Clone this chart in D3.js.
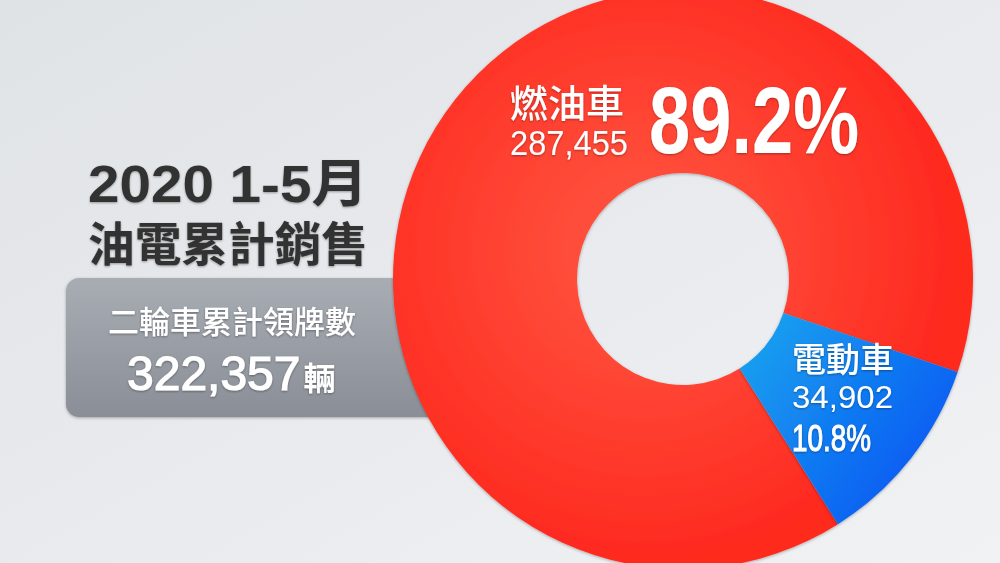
<!DOCTYPE html>
<html>
<head>
<meta charset="utf-8">
<script src="https://cdn.jsdelivr.net/npm/d3@7"></script>
<style>
html,body{margin:0;padding:0;overflow:hidden;}
svg{display:block;}
</style>
</head>
<body>
<svg id="chart" width="1000" height="563"></svg>
<script>
// ---- data ----
const categories = ["燃油車", "電動車"];
const values = [287455, 34902];
const valueLabels = ["287,455", "34,902"];
const percentLabels = ["89.2%", "10.8%"];
const titleLines = ["2020 1-5月", "油電累計銷售"];
const boxTitle = "二輪車累計領牌數";
const totalLabel = "322,357";
const totalUnit = "輛";

const W = 1000, H = 563;
const svg = d3.select("#chart");
const defs = svg.append("defs");

// background
const bg = defs.append("linearGradient").attr("id","bg").attr("x1","0").attr("y1","0").attr("x2","1").attr("y2","1");
bg.append("stop").attr("offset","0").attr("stop-color","#e0e3e6");
bg.append("stop").attr("offset","0.5").attr("stop-color","#e8eaed");
bg.append("stop").attr("offset","1").attr("stop-color","#f1f2f4");
svg.append("rect").attr("width",W).attr("height",H).attr("fill","url(#bg)");

// shadows
const sh = defs.append("filter").attr("id","sh").attr("x","-20%").attr("y","-20%").attr("width","140%").attr("height","140%");
sh.append("feDropShadow").attr("dx",0).attr("dy",1).attr("stdDeviation",1.5).attr("flood-color","#000").attr("flood-opacity",0.3);
const tsh = defs.append("filter").attr("id","tsh").attr("x","-10%").attr("y","-10%").attr("width","120%").attr("height","130%");
tsh.append("feDropShadow").attr("dx",0).attr("dy",1).attr("stdDeviation",0.8).attr("flood-color","#000").attr("flood-opacity",0.35);

// gray box
const boxG = defs.append("linearGradient").attr("id","boxg").attr("x1","0").attr("y1","0").attr("x2","0").attr("y2","1");
boxG.append("stop").attr("offset","0").attr("stop-color","#a8acb3");
boxG.append("stop").attr("offset","1").attr("stop-color","#8a8e96");
svg.append("rect").attr("x",66).attr("y",278).attr("width",440).attr("height",139).attr("rx",13)
  .attr("fill","url(#boxg)").attr("filter","url(#sh)");

const sans = "'Liberation Sans', Arial, 'Noto Sans CJK TC', sans-serif";
const cjk = "'Noto Sans CJK TC', 'Liberation Sans', sans-serif";

svg.append("text").attr("x",232).attr("y",333).attr("text-anchor","middle")
  .attr("font-family",cjk).attr("font-size",31).attr("font-weight",500).attr("fill","#fff")
  .attr("filter","url(#tsh)").text(boxTitle);
const tot = svg.append("text").attr("x",127).attr("y",390).attr("fill","#fff").attr("filter","url(#tsh)");
tot.append("tspan").attr("font-family",sans).attr("font-size",48).attr("font-weight",400)
  .attr("stroke","#fff").attr("stroke-width",1.2).text(totalLabel);
tot.append("tspan").attr("font-family",cjk).attr("font-size",32).attr("font-weight",700).attr("dx",3).text(totalUnit);

// title
const title = svg.append("text").attr("font-weight",700).attr("fill","#333").attr("filter","url(#tsh)");
title.append("tspan").attr("x",88).attr("y",202).attr("font-family",sans).attr("font-size",52)
  .attr("textLength",280).attr("lengthAdjust","spacingAndGlyphs").text(titleLines[0]);
title.append("tspan").attr("x",88).attr("y",261).attr("font-family",cjk).attr("font-size",47)
  .attr("textLength",280).attr("lengthAdjust","spacingAndGlyphs").text(titleLines[1]);

// donut
const cx = 683, cy = 279, R = 290, r = 106;
const redG = defs.append("radialGradient").attr("id","redg").attr("gradientUnits","userSpaceOnUse")
  .attr("cx",-40).attr("cy",-30).attr("r",R+20);
redG.append("stop").attr("offset","0.25").attr("stop-color","#ff4d3a");
redG.append("stop").attr("offset","1").attr("stop-color","#fe2a1f");
const blueG = defs.append("linearGradient").attr("id","blueg").attr("gradientUnits","userSpaceOnUse")
  .attr("x1",70).attr("y1",40).attr("x2",280).attr("y2",200);
blueG.append("stop").attr("offset","0").attr("stop-color","#17a3ef");
blueG.append("stop").attr("offset","1").attr("stop-color","#0a50f3");
const fills = ["url(#redg)","url(#blueg)"];

const start = 147.7 * Math.PI/180;
const pie = d3.pie().sort(null).value(d=>d).startAngle(start).endAngle(start + 2*Math.PI);
const arc = d3.arc().innerRadius(r).outerRadius(R);
const g = svg.append("g").attr("transform",`translate(${cx},${cy})`);
g.selectAll("path").data(pie(values)).join("path")
  .attr("d",arc).attr("fill",(d,i)=>fills[i]).attr("filter","url(#sh)");

// labels - red
const redLab = svg.append("text").attr("fill","#fff").attr("filter","url(#tsh)");
redLab.append("tspan").attr("x",510).attr("y",117).attr("font-family",cjk).attr("font-size",38).attr("font-weight",500)
  .text(categories[0]);
redLab.append("tspan").attr("x",510).attr("y",155).attr("font-family",sans).attr("font-size",35)
  .attr("textLength",118).attr("lengthAdjust","spacingAndGlyphs").text(valueLabels[0]);
svg.append("text").attr("x",649).attr("y",153).attr("font-family",sans).attr("font-size",94).attr("font-weight",700)
  .attr("textLength",210).attr("lengthAdjust","spacingAndGlyphs")
  .attr("fill","#fff").attr("filter","url(#tsh)").text(percentLabels[0]);

// labels - blue
const blueLab = svg.append("text").attr("fill","#fff").attr("filter","url(#tsh)");
blueLab.append("tspan").attr("x",792).attr("y",372).attr("font-family",cjk).attr("font-size",34).attr("font-weight",500)
  .text(categories[1]);
blueLab.append("tspan").attr("x",792).attr("y",408).attr("font-family",sans).attr("font-size",32)
  .attr("textLength",101).attr("lengthAdjust","spacingAndGlyphs").text(valueLabels[1]);
blueLab.append("tspan").attr("x",792).attr("y",451).attr("font-family",sans).attr("font-size",37).attr("font-weight",400)
  .attr("stroke","#fff").attr("stroke-width",1)
  .attr("textLength",79).attr("lengthAdjust","spacingAndGlyphs").text(percentLabels[1]);
</script>
</body>
</html>
